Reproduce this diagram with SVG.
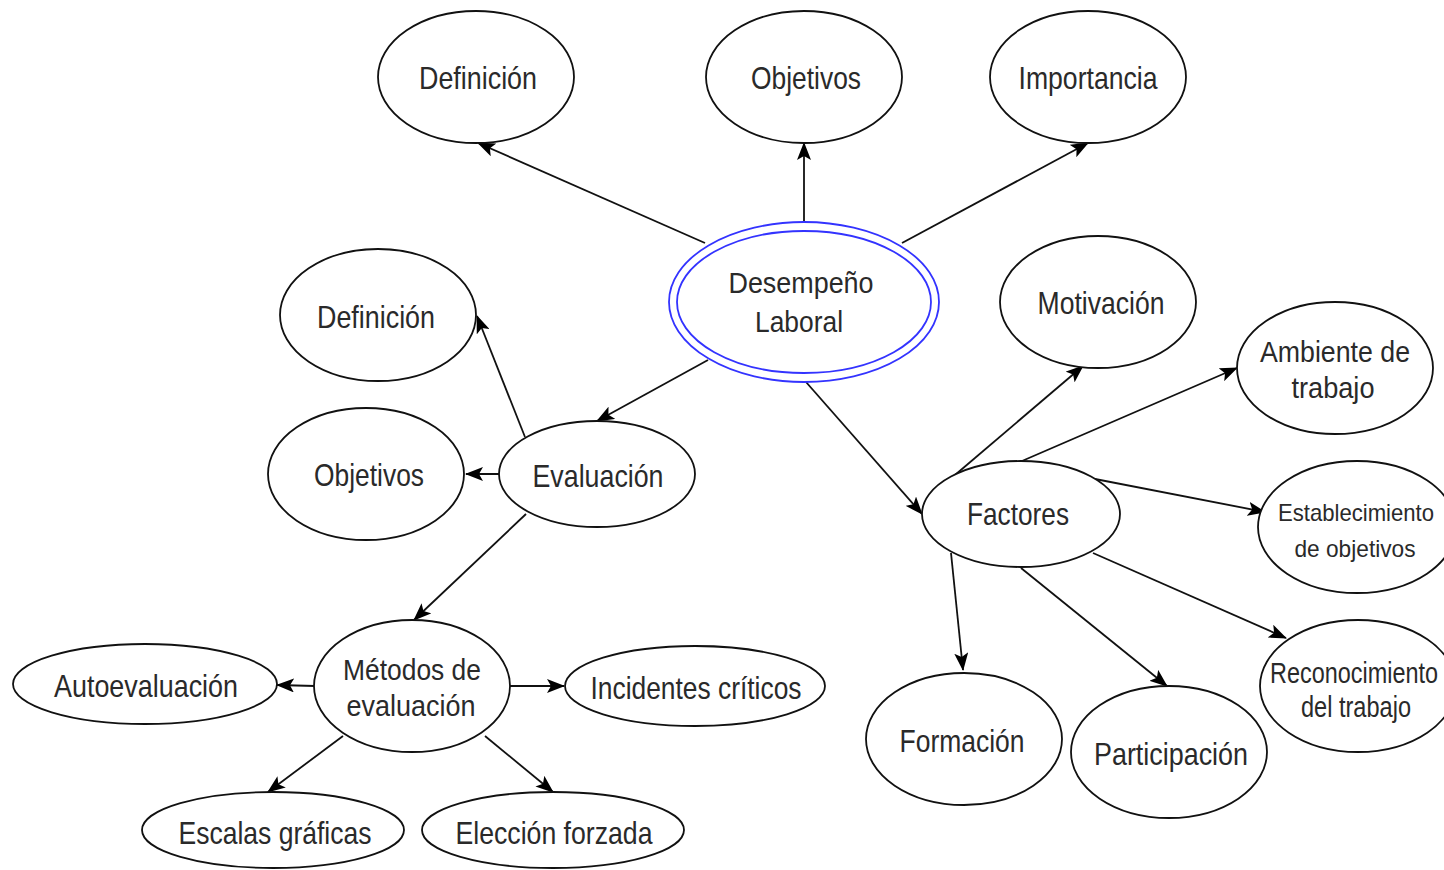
<svg xmlns="http://www.w3.org/2000/svg" width="1444" height="870" viewBox="0 0 1444 870">
<defs>
<style>
.n ellipse{fill:#fff;stroke:#111;stroke-width:1.8}
.t{font-family:"Liberation Sans",Arial,sans-serif;font-size:32px;fill:#2a2a2a;text-anchor:middle}
.m{font-size:29px}
.s{font-size:24px}
#edges line{stroke:#111;stroke-width:1.8;marker-end:url(#arr)}
</style>
<marker id="arr" viewBox="0 0 18 14" refX="17" refY="7" markerWidth="18" markerHeight="14" markerUnits="userSpaceOnUse" orient="auto">
<path d="M0,0 L18,7 L0,14 L4,7 Z" fill="#000"/>
</marker>
</defs>
<rect width="1444" height="870" fill="#fff"/>
<g id="edges">
<line x1="705" y1="243" x2="478" y2="143"/>
<line x1="804" y1="222" x2="804" y2="143"/>
<line x1="902" y1="243" x2="1088" y2="143"/>
<line x1="708" y1="360" x2="597" y2="421"/>
<line x1="806" y1="382" x2="922" y2="514"/>
<line x1="525" y1="437" x2="477" y2="316"/>
<line x1="499" y1="474" x2="466" y2="474"/>
<line x1="526" y1="514" x2="414" y2="620"/>
<line x1="315" y1="686" x2="277" y2="685"/>
<line x1="510" y1="686" x2="564" y2="686"/>
<line x1="343" y1="736" x2="268" y2="792"/>
<line x1="485" y1="736" x2="553" y2="792"/>
<line x1="955" y1="475" x2="1083" y2="366"/>
<line x1="1022" y1="461" x2="1237" y2="368"/>
<line x1="1095" y1="479" x2="1265" y2="512"/>
<line x1="1093" y1="553" x2="1286" y2="638"/>
<line x1="951" y1="553" x2="963" y2="670"/>
<line x1="1021" y1="568" x2="1167" y2="686"/>
</g>
<g id="desempeno" class="n">
<ellipse cx="804" cy="302" rx="135" ry="80" style="stroke:#3333ff"/>
<ellipse cx="804" cy="302" rx="127" ry="71" style="stroke:#3333ff"/>
<text class="t m" x="801" y="293" textLength="145" lengthAdjust="spacingAndGlyphs">Desempeño</text>
<text class="t m" x="799" y="332" textLength="88" lengthAdjust="spacingAndGlyphs">Laboral</text>
</g>
<g id="definicion1" class="n"><ellipse cx="476" cy="77" rx="98" ry="66"/><text class="t" x="478" y="89" textLength="118" lengthAdjust="spacingAndGlyphs">Definición</text></g>
<g id="objetivos1" class="n"><ellipse cx="804" cy="77" rx="98" ry="66"/><text class="t" x="806" y="89" textLength="110" lengthAdjust="spacingAndGlyphs">Objetivos</text></g>
<g id="importancia" class="n"><ellipse cx="1088" cy="77" rx="98" ry="66"/><text class="t" x="1088" y="89" textLength="139" lengthAdjust="spacingAndGlyphs">Importancia</text></g>
<g id="definicion2" class="n"><ellipse cx="378" cy="315" rx="98" ry="66"/><text class="t" x="376" y="328" textLength="118" lengthAdjust="spacingAndGlyphs">Definición</text></g>
<g id="objetivos2" class="n"><ellipse cx="366" cy="474" rx="98" ry="66"/><text class="t" x="369" y="486" textLength="110" lengthAdjust="spacingAndGlyphs">Objetivos</text></g>
<g id="evaluacion" class="n"><ellipse cx="597" cy="474" rx="98" ry="53"/><text class="t" x="598" y="487" textLength="131" lengthAdjust="spacingAndGlyphs">Evaluación</text></g>
<g id="metodos" class="n"><ellipse cx="412" cy="686" rx="98" ry="66"/>
<text class="t m" x="412" y="680" textLength="138" lengthAdjust="spacingAndGlyphs">Métodos de</text>
<text class="t m" x="411" y="716" textLength="129" lengthAdjust="spacingAndGlyphs">evaluación</text></g>
<g id="autoevaluacion" class="n"><ellipse cx="145" cy="684" rx="132" ry="40"/><text class="t" x="146" y="697" textLength="184" lengthAdjust="spacingAndGlyphs">Autoevaluación</text></g>
<g id="incidentes" class="n"><ellipse cx="695" cy="686" rx="130" ry="40"/><text class="t" x="696" y="699" textLength="211" lengthAdjust="spacingAndGlyphs">Incidentes críticos</text></g>
<g id="escalas" class="n"><ellipse cx="273" cy="830" rx="131" ry="38"/><text class="t" x="275" y="844" textLength="193" lengthAdjust="spacingAndGlyphs">Escalas gráficas</text></g>
<g id="eleccion" class="n"><ellipse cx="553" cy="830" rx="131" ry="38"/><text class="t" x="554" y="844" textLength="197" lengthAdjust="spacingAndGlyphs">Elección forzada</text></g>
<g id="factores" class="n"><ellipse cx="1021" cy="514" rx="99" ry="53"/><text class="t" x="1018" y="525" textLength="102" lengthAdjust="spacingAndGlyphs">Factores</text></g>
<g id="motivacion" class="n"><ellipse cx="1098" cy="302" rx="98" ry="66"/><text class="t" x="1101" y="314" textLength="127" lengthAdjust="spacingAndGlyphs">Motivación</text></g>
<g id="ambiente" class="n"><ellipse cx="1335" cy="368" rx="98" ry="66"/>
<text class="t m" x="1335" y="362" textLength="150" lengthAdjust="spacingAndGlyphs">Ambiente de</text>
<text class="t m" x="1333" y="398" textLength="83" lengthAdjust="spacingAndGlyphs">trabajo</text></g>
<g id="establecimiento" class="n"><ellipse cx="1357" cy="527" rx="99" ry="66"/>
<text class="t s" x="1356" y="521" textLength="156" lengthAdjust="spacingAndGlyphs">Establecimiento</text>
<text class="t s" x="1355" y="557" textLength="121" lengthAdjust="spacingAndGlyphs">de objetivos</text></g>
<g id="reconocimiento" class="n"><ellipse cx="1358" cy="686" rx="98" ry="66"/>
<text class="t m" x="1354" y="683" textLength="168" lengthAdjust="spacingAndGlyphs">Reconocimiento</text>
<text class="t m" x="1356" y="717" textLength="110" lengthAdjust="spacingAndGlyphs">del trabajo</text></g>
<g id="formacion" class="n"><ellipse cx="964" cy="739" rx="98" ry="66"/><text class="t" x="962" y="752" textLength="125" lengthAdjust="spacingAndGlyphs">Formación</text></g>
<g id="participacion" class="n"><ellipse cx="1169" cy="752" rx="98" ry="66"/><text class="t" x="1171" y="765" textLength="154" lengthAdjust="spacingAndGlyphs">Participación</text></g>
</svg>
